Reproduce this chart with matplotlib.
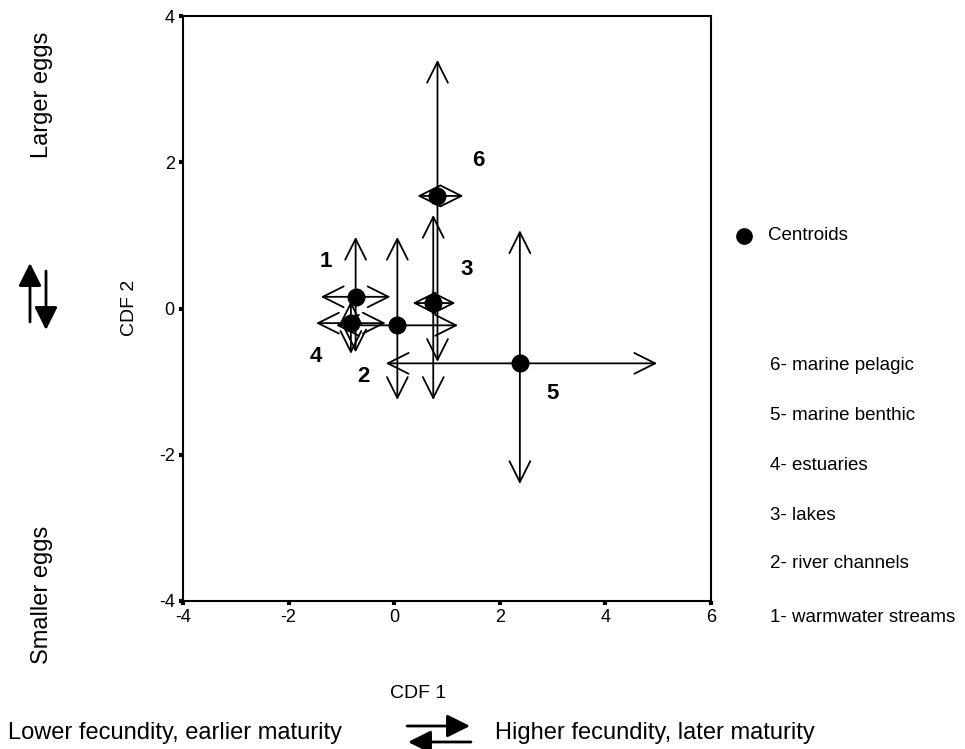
import matplotlib
matplotlib.use("Agg")
import matplotlib.pyplot as plt

plt.rcParams['font.family'] = ['Liberation Sans', 'DejaVu Sans']
plt.rcParams['axes.unicode_minus'] = False

# centroids of the six habitat groups (CDF 1, CDF 2), order 1..6
groups = ["1", "2", "3", "4", "5", "6"]
cx = [-0.73, 0.06, 0.74, -0.82, 2.38, 0.82]
cy = [0.16, -0.23, 0.075, -0.20, -0.75, 1.54]
# spread of each group (arrow ends)
x_lo = [-1.39, -1.10, 0.35, -1.48, -0.16, 0.44]
x_hi = [-0.07, 1.21, 1.16, -0.16, 4.98, 1.31]
y_lo = [-0.60, -1.25, -1.25, -0.62, -2.40, -0.73]
y_hi = [0.98, 0.98, 1.28, 0.10, 1.07, 3.40]
# where the group numbers sit
lab_x = [-1.29, -0.59, 1.37, -1.48, 3.0, 1.6]
lab_y = [0.64, -0.93, 0.53, -0.66, -1.16, 2.03]

habitats = ["6- marine pelagic", "5- marine benthic", "4- estuaries",
            "3- lakes", "2- river channels", "1- warmwater streams"]

fig = plt.figure(figsize=(9.65, 7.49), dpi=100)
ax = fig.add_axes([0.1896, 0.1976, 0.5472, 0.781])

arr = dict(arrowstyle="<->,head_length=1.5,head_width=0.75", color="black",
           lw=1.3, shrinkA=0, shrinkB=0, mutation_scale=10)
for i in range(len(groups)):
    ax.annotate("", xy=(x_lo[i], cy[i]), xytext=(x_hi[i], cy[i]), arrowprops=arr)
    ax.annotate("", xy=(cx[i], y_lo[i]), xytext=(cx[i], y_hi[i]), arrowprops=arr)
ax.plot(cx, cy, "o", color="black", markersize=12, zorder=5)
for i in range(len(groups)):
    ax.text(lab_x[i], lab_y[i], groups[i], fontsize=16, fontweight="bold",
            ha="center", va="center")

ax.set_xlim(-4, 6)
ax.set_ylim(-4, 4)
ax.set_xticks([-4, -2, 0, 2, 4, 6])
ax.set_yticks([-4, -2, 0, 2, 4])
ax.tick_params(direction="out", length=3, width=3, labelsize=13, pad=3)
for s in ax.spines.values():
    s.set_linewidth(1.5)

# legend and habitat key on the right
ax.plot([744 / 965], [1 - 236 / 749], "o", color="black", markersize=11,
        transform=fig.transFigure, clip_on=False)
fig.text(768 / 965, 1 - 236 / 749, "Centroids", fontsize=13.5, va="center")
key_y = [366, 415, 466, 515, 564, 617]
for t, yy in zip(habitats, key_y):
    fig.text(770 / 965, 1 - yy / 749, t, fontsize=13.5, va="center")

# axis titles and their meanings
fig.text(130 / 965, 1 - 308 / 749, "CDF 2", fontsize=14, rotation=90,
         ha="center", va="center")
fig.text(42 / 965, 1 - 95 / 749, "Larger eggs", fontsize=17, rotation=90,
         ha="center", va="center")
fig.text(42 / 965, 1 - 595 / 749, "Smaller eggs", fontsize=17, rotation=90,
         ha="center", va="center")
fig.text(418 / 965, 1 - 693 / 749, "CDF 1", fontsize=14, ha="center", va="center")
fig.text(8 / 965, 1 - 733 / 749, "Lower fecundity, earlier maturity", fontsize=17,
         va="center")
fig.text(495 / 965, 1 - 733 / 749, "Higher fecundity, later maturity", fontsize=17,
         va="center")

# solid direction arrows beside the titles
big = dict(arrowstyle="-|>,head_length=1.4,head_width=0.7", color="black", lw=2,
           shrinkA=0, shrinkB=0, mutation_scale=10)
ax.annotate("", xy=(30 / 965, 1 - 263 / 749), xytext=(30 / 965, 1 - 322 / 749),
            xycoords="figure fraction", arrowprops=big)
ax.annotate("", xy=(46 / 965, 1 - 330 / 749), xytext=(46 / 965, 1 - 271 / 749),
            xycoords="figure fraction", arrowprops=big)
ax.annotate("", xy=(470 / 965, 1 - 726 / 749), xytext=(407 / 965, 1 - 726 / 749),
            xycoords="figure fraction", arrowprops=big)
ax.annotate("", xy=(408 / 965, 1 - 742 / 749), xytext=(471 / 965, 1 - 742 / 749),
            xycoords="figure fraction", arrowprops=big)

fig.savefig("out.png", dpi=100)
